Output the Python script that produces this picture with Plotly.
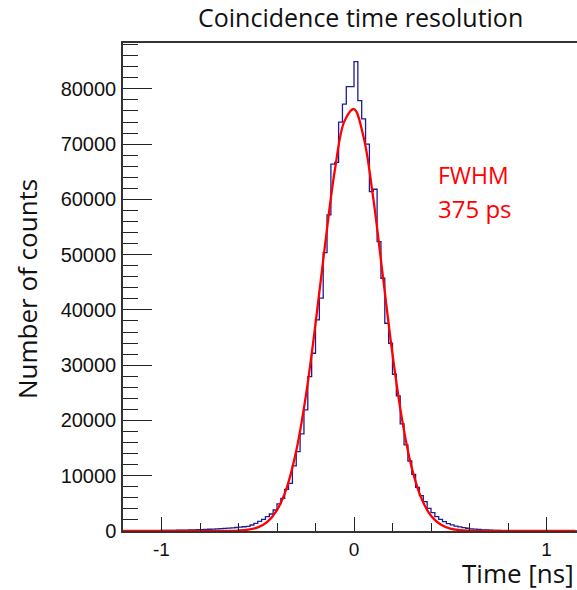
import numpy as np
import plotly.graph_objects as go

# ---------------- data ----------------
bin_lo = -1.2
bin_width = 0.02
# histogram counts, 120 bins of 0.02 ns from -1.2 ns to 1.2 ns
counts = [
    30, 35, 40, 45, 50, 55, 60, 65, 70, 80, 90, 100, 110, 125, 140, 155,
    170, 190, 210, 230, 260, 290, 320, 350, 390, 430, 470, 520, 570, 630, 690, 770,
    850, 1090, 1390, 1750, 2110, 2590, 3080, 3800, 4890, 5910, 7540, 8630,
    11770, 14360, 17560, 21900, 27930, 32160, 38190, 42120, 50370, 57200,
    66400, 66700, 73970, 77230, 80420, 80420,
    84940, 77890, 74570, 69990, 61420, 61840, 52360, 45730, 37590, 33970,
    28360, 24440, 19370, 15570, 12670, 10260, 7900, 6390, 5310, 4100,
    3320, 2590, 2110, 1690, 1330,
    1100, 900, 750, 620, 500, 400, 330, 270, 220, 180, 150, 120, 100, 80,
    65, 55, 45, 40, 35, 30,
    25, 22, 20, 18, 16, 15, 14, 13, 12, 11, 10, 10, 9, 9, 8,
]

fit_t = np.round(np.arange(-1.2, 1.1501, 0.05), 3)
fit_counts = [
    0, 0, 0, 0, 0, 0, 0, 0, 0, 0,
    6, 23, 78, 239, 662, 1662, 3778, 7775, 14500, 24490, 37460, 51920,
    65180, 74120, 76350, 71240, 60220, 46110, 31980, 20100, 11440, 5900,
    2754, 1164, 447, 155, 49, 14, 4,
    0, 0, 0, 0, 0, 0, 0, 0, 0,
]

x_tickvals = [-1, 0, 1]
x_ticktext = ["-1", "0", "1"]
title_text = "Coincidence time resolution"
x_title = "Time [ns]"
y_title = "Number of counts"
fwhm_lines = ["FWHM", "375 ps"]

# ---------------- figure ----------------
edges = bin_lo + bin_width * np.arange(len(counts) + 1)
step_x = list(edges)
step_y = list(counts) + [counts[-1]]

W, H = 577, 590
L, R, T, B = 123, 0, 43, 59
pw, ph = W - L - R, H - T - B

def px(xp):
    return (xp - L) / pw

def py(yp):
    return (H - B - yp) / ph

fig = go.Figure()
fig.add_trace(go.Scatter(
    x=step_x, y=step_y, mode="lines", line_shape="hv",
    line=dict(color="#1c1c94", width=1.3), hoverinfo="skip", showlegend=False,
))
fig.add_trace(go.Scatter(
    x=fit_t, y=fit_counts, mode="lines", line_shape="spline",
    line=dict(color="#ff0000", width=2.3), hoverinfo="skip", showlegend=False,
))

axis_col = "#333333"
fig.update_xaxes(
    range=[-1.2, (W - R - L) / 192.5 - 1.2], showgrid=False, zeroline=False,
    showline=True, linecolor=axis_col, linewidth=1.5, mirror=True,
    tickmode="array", tickvals=x_tickvals, ticktext=x_ticktext,
    ticks="inside", ticklen=14, tickwidth=1.3, tickcolor="#222",
    minor=dict(dtick=0.2, tick0=0, ticks="inside", ticklen=8, tickwidth=1.3, tickcolor="#222"),
    tickfont=dict(family="Liberation Sans, Arial", size=19, color="#111"),
    ticklabelstandoff=0,
)
fig.update_yaxes(
    range=[0, 88300], showgrid=False, zeroline=False,
    showline=True, linecolor=axis_col, linewidth=1.5, mirror=False,
    tickmode="linear", tick0=0, dtick=10000, tickformat="d",
    ticks="inside", ticklen=29, tickwidth=1.3, tickcolor="#222",
    minor=dict(dtick=2000, ticks="inside", ticklen=15, tickwidth=1.3, tickcolor="#222"),
    tickfont=dict(family="Liberation Sans, Arial", size=20, color="#111"),
    ticklabelstandoff=1,
)

txt_font = "Open Sans, Noto Sans, sans-serif"
anns = [
    dict(text=title_text, x=px(360), y=py(17), font=dict(size=25, color="#111", family=txt_font)),
    dict(text=y_title, x=px(27), y=py(289), textangle=-90, font=dict(size=26, color="#111", family=txt_font)),
    dict(text=x_title, x=px(576), y=py(573), xanchor="right", font=dict(size=26, color="#111", family=txt_font)),
    dict(text=fwhm_lines[0], x=px(436), y=py(175), xanchor="left", font=dict(size=23, color="#ff0000", family=txt_font)),
    dict(text=fwhm_lines[1], x=px(436), y=py(208), xanchor="left", font=dict(size=24, color="#ff0000", family=txt_font)),
]
for a in anns:
    a.setdefault("xanchor", "center")
    a.update(xref="paper", yref="paper", showarrow=False, yanchor="middle")
    fig.add_annotation(**a)

fig.update_layout(
    width=W, height=H, margin=dict(l=L, r=R, t=T, b=B, pad=0),
    paper_bgcolor="white", plot_bgcolor="white",
)
fig.write_html("out.html")
